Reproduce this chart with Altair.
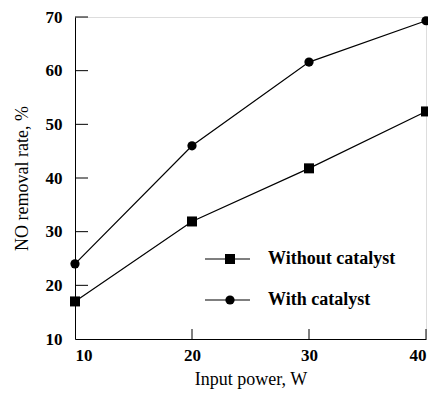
import altair as alt
import pandas as pd

power = [10, 20, 30, 40]
without_cat = [17.0, 31.9, 41.8, 52.4]
with_cat = [24.0, 46.0, 61.6, 69.3]
x_ticks = [10, 20, 30, 40]
y_ticks = [10, 20, 30, 40, 50, 60, 70]
legend_labels = ["Without catalyst", "With catalyst"]

W, H = 351, 322
FONT = "Liberation Serif"

df = pd.DataFrame({
    "power": power * 2,
    "rate": without_cat + with_cat,
    "series": [legend_labels[0]] * 4 + [legend_labels[1]] * 4,
})

xs = alt.Scale(domain=[10, 40], nice=False, zero=False)
ys = alt.Scale(domain=[10, 70], nice=False, zero=False)

xax = alt.Axis(values=x_ticks, ticks=False, grid=False, domainColor="black",
               labelFont=FONT, labelFontSize=17, labelFontWeight="bold", labelColor="black",
               labelPadding=8, title="Input power, W", titleFont=FONT, titleFontSize=18,
               titleFontWeight="normal", titleColor="black", titlePadding=7)
yax = alt.Axis(values=y_ticks, ticks=False, grid=False, domainColor="black",
               labelFont=FONT, labelFontSize=17, labelFontWeight="bold", labelColor="black",
               labelPadding=13, title="NO removal rate, %", titleFont=FONT, titleFontSize=18,
               titleFontWeight="normal", titleColor="black", titlePadding=14)

base = alt.Chart(df)
lines = base.mark_line(color="black", strokeWidth=1.2).encode(
    x=alt.X("power:Q", scale=xs, axis=xax),
    y=alt.Y("rate:Q", scale=ys, axis=yax),
    detail="series:N",
)
points = base.mark_point(filled=True, color="black", opacity=1).encode(
    x=alt.X("power:Q", scale=xs),
    y=alt.Y("rate:Q", scale=ys, axis=None),
    shape=alt.Shape("series:N", scale=alt.Scale(domain=legend_labels, range=["square", "circle"]), legend=None),
    size=alt.Size("series:N", scale=alt.Scale(domain=legend_labels, range=[100, 85]), legend=None),
)

ytick_df = pd.DataFrame({"v": y_ticks[1:]})
ytk = alt.Chart(ytick_df).mark_rule(color="black", strokeWidth=1).encode(
    y=alt.Y("v:Q", scale=ys, axis=None), x=alt.value(0), x2=alt.value(13))
xtick_df = pd.DataFrame({"v": x_ticks[1:]})
xtk = alt.Chart(xtick_df).mark_rule(color="black", strokeWidth=1).encode(
    x=alt.X("v:Q", scale=xs), y=alt.value(H), y2=alt.value(H - 10))

# legend
leg_df = pd.DataFrame({"label": legend_labels, "row": [0, 1]})
leg_y = alt.Y("row:Q", scale=alt.Scale(domain=[0, 1], range=[242, 283]), axis=None)
leg_line = alt.Chart(leg_df).mark_rule(color="black", strokeWidth=1.2).encode(
    y=leg_y, x=alt.value(130), x2=alt.value(175))
leg_pt = alt.Chart(leg_df).mark_point(filled=True, color="black", opacity=1).encode(
    y=leg_y, x=alt.value(155),
    shape=alt.Shape("label:N", scale=alt.Scale(domain=legend_labels, range=["square", "circle"]), legend=None),
    size=alt.Size("label:N", scale=alt.Scale(domain=legend_labels, range=[100, 85]), legend=None),
)
leg_txt = alt.Chart(leg_df).mark_text(align="left", baseline="middle", font=FONT, fontSize=18,
                                      fontWeight="bold", color="black").encode(
    y=leg_y, x=alt.value(193), text="label:N")

chart = alt.layer(lines, points, ytk, xtk, leg_line, leg_pt, leg_txt).resolve_scale(
    shape="independent", size="independent", y="independent"
).properties(
    width=W, height=H,
    autosize=alt.AutoSizeParams(type="none"),
    padding={"left": 67, "top": 9, "right": 2, "bottom": 55},
).configure_view(stroke=None).configure(background="white")

chart.save("out.html", embed_options={"renderer": "svg", "actions": False})
